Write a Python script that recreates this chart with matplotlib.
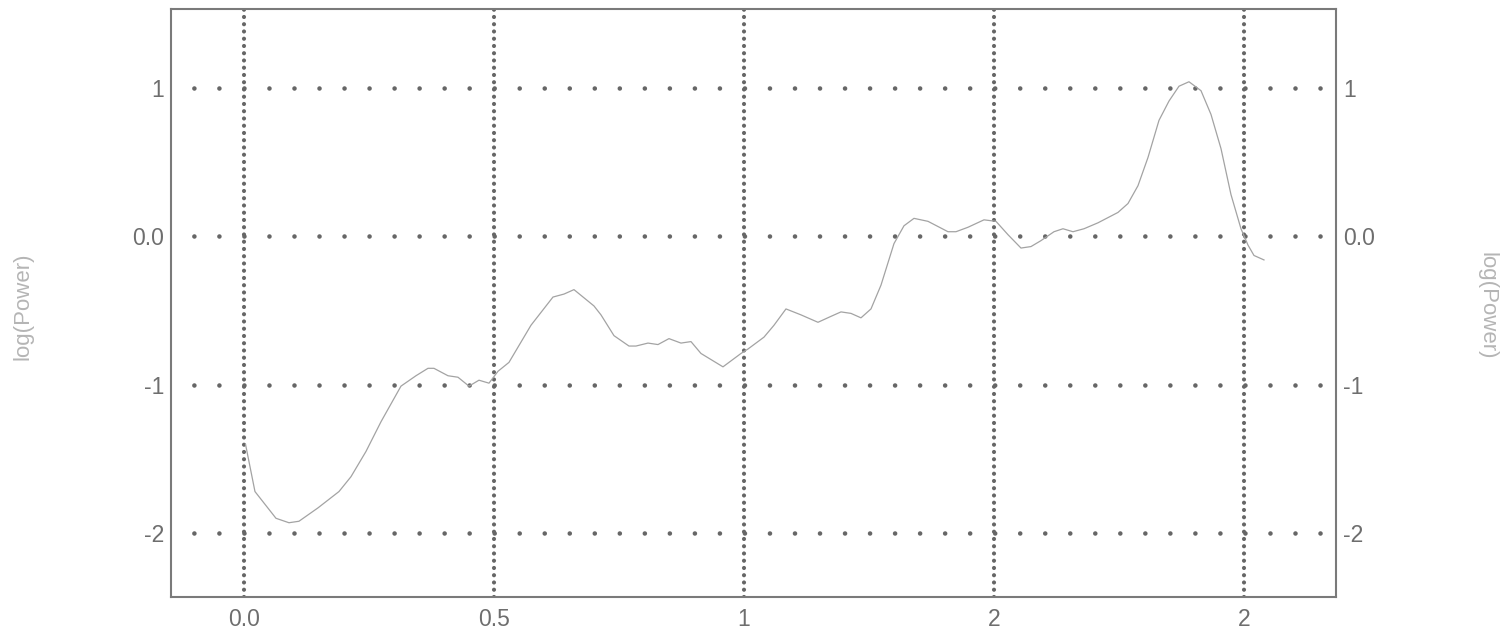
import matplotlib
matplotlib.use("Agg")
import matplotlib.pyplot as plt

# -----------------------
# DATA
# -----------------------
freq = [0.003, 0.022, 0.064, 0.09, 0.11, 0.148, 0.19, 0.214, 0.244, 0.274,
        0.314, 0.344, 0.368, 0.38, 0.408, 0.428, 0.45, 0.47, 0.49, 0.508,
        0.53, 0.574, 0.618, 0.64, 0.66, 0.70, 0.714, 0.74, 0.77, 0.784,
        0.808, 0.828, 0.85, 0.874, 0.894, 0.914, 0.958, 0.994, 1.008, 1.04,
        1.06, 1.084, 1.114, 1.148, 1.174, 1.194, 1.214, 1.234, 1.254, 1.274,
        1.30, 1.32, 1.34, 1.368, 1.408, 1.424, 1.448, 1.48, 1.504, 1.528,
        1.554, 1.574, 1.594, 1.62, 1.638, 1.658, 1.68, 1.708, 1.748, 1.768,
        1.788, 1.808, 1.83, 1.85, 1.87, 1.89, 1.914, 1.934, 1.954, 1.974,
        1.994, 2.008, 2.02, 2.04]
log_power = [-1.40, -1.72, -1.90, -1.93, -1.92, -1.83, -1.72, -1.62, -1.45, -1.25,
             -1.01, -0.94, -0.89, -0.89, -0.94, -0.95, -1.01, -0.97, -0.99, -0.91,
             -0.85, -0.60, -0.41, -0.39, -0.36, -0.47, -0.53, -0.67, -0.74, -0.74,
             -0.72, -0.73, -0.69, -0.72, -0.71, -0.79, -0.88, -0.79, -0.76, -0.68,
             -0.60, -0.49, -0.53, -0.58, -0.54, -0.51, -0.52, -0.55, -0.49, -0.33,
             -0.05, 0.07, 0.12, 0.10, 0.03, 0.03, 0.06, 0.11, 0.10, 0.01,
             -0.08, -0.07, -0.03, 0.03, 0.05, 0.03, 0.05, 0.09, 0.16, 0.22,
             0.34, 0.53, 0.78, 0.91, 1.01, 1.04, 0.98, 0.82, 0.59, 0.28,
             0.05, -0.06, -0.13, -0.16]

x_ticks = [0, 0.5, 1, 1.5, 2]
x_labels = ["0.0", "0.5", "1", "2", "2"]
y_ticks = [-2, -1, 0, 1]
y_labels = ["-2", "-1", "0.0", "1"]

# -----------------------
# STYLE
# -----------------------
plt.rcParams['font.family'] = ['Liberation Sans', 'DejaVu Sans']
tick_color = "#6e6e6e"
label_color = "#b5b5b5"
grid_color = "#666666"

fig = plt.figure(figsize=(15.05, 6.34), dpi=100)
ax = fig.add_axes([0.1136, 0.0584, 0.7741, 0.9274])

ax.set_xlim(-0.146, 2.184)
ax.set_ylim(-2.43, 1.53)

# vertical dense dotted grid
for xv in x_ticks:
    ax.axvline(xv, color=grid_color, linewidth=3.0, linestyle=(0, (0.01, 1.73)),
               dash_capstyle="round", zorder=1)

# horizontal sparse dotted grid
for yv in y_ticks:
    ax.axhline(yv, color=grid_color, linewidth=3.3, linestyle=(0.47, (0.01, 5.45)),
               dash_capstyle="round", zorder=1)

# the spectrum
ax.plot(freq, log_power, color="#a3a3a3", linewidth=0.9, zorder=3)

ax.set_xticks(x_ticks)
ax.set_xticklabels(x_labels)
ax.set_yticks(y_ticks)
ax.set_yticklabels(y_labels)
ax.tick_params(axis="x", length=0, pad=8, labelsize=16.5, labelcolor=tick_color)
ax.tick_params(axis="y", length=0, pad=5, labelsize=16.5, labelcolor=tick_color)

for sp in ax.spines.values():
    sp.set_color("#7a7a7a")
    sp.set_linewidth(1.5)

ax.set_ylabel("log(Power)", fontsize=16, color=label_color)
ax.yaxis.set_label_coords(-0.118, 0.495)

# right axis mirror
ax2 = ax.twinx()
ax2.set_ylim(ax.get_ylim())
ax2.set_yticks(y_ticks)
ax2.set_yticklabels(y_labels)
ax2.tick_params(axis="y", length=0, pad=5, labelsize=16.5, labelcolor=tick_color)
for sp in ax2.spines.values():
    sp.set_visible(False)
ax2.set_ylabel("log(Power)", fontsize=16, color=label_color, rotation=270)
ax2.yaxis.set_label_coords(1.139, 0.495)

fig.savefig("out.png", dpi=100)
